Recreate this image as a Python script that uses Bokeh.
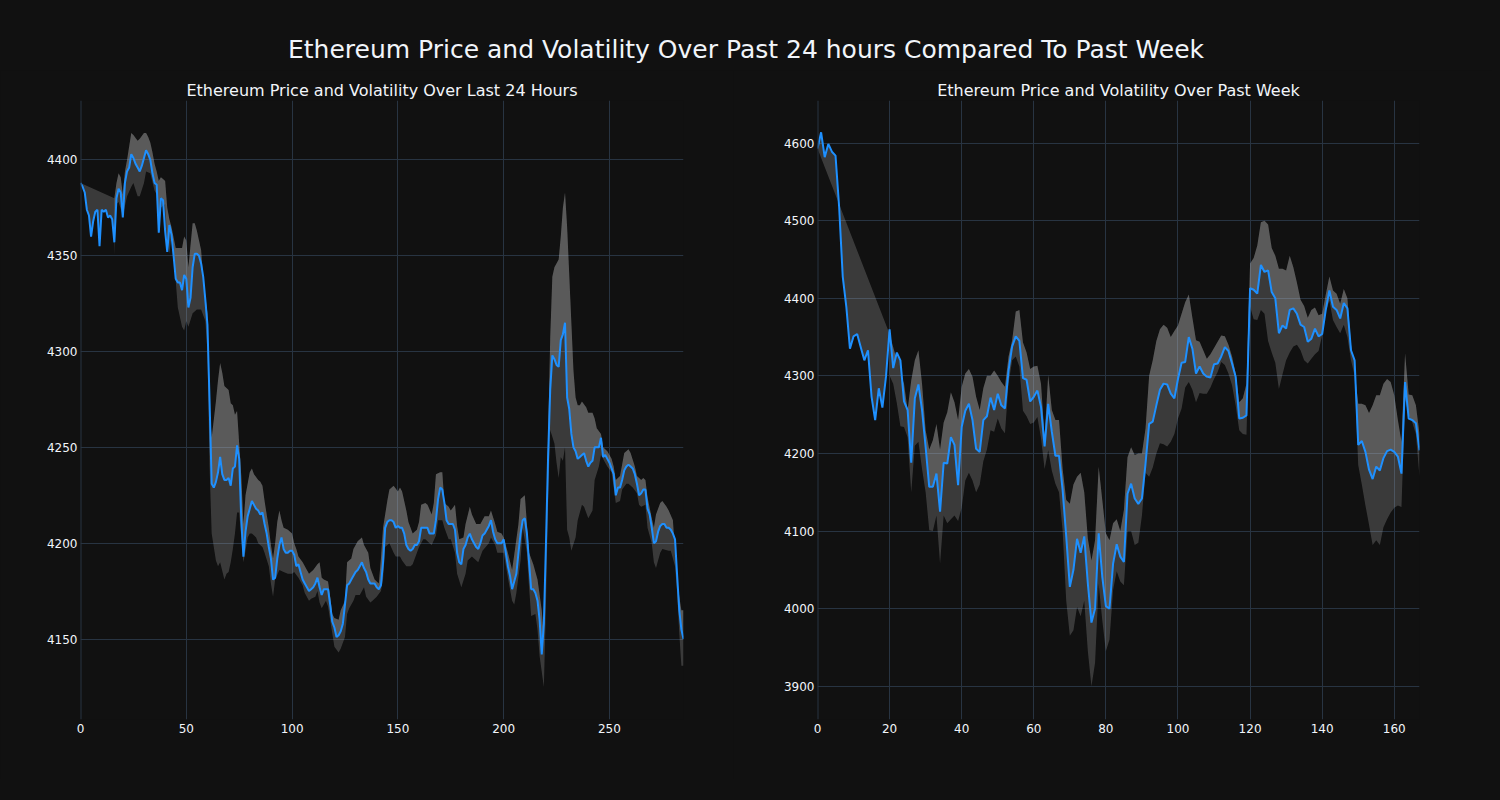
import numpy as np
from bokeh.plotting import figure
from bokeh.layouts import column, row
from bokeh.models import Div, Range1d, FixedTicker, Span, GlobalInlineStyleSheet
from bokeh.embed import file_html
from bokeh.resources import INLINE

BG = "#111111"
GRID = "#283442"
TXT = "#f2f5fa"
BLUE = "#1e90ff"
BAND = "#c0c0c0"
FONT = "DejaVu Sans"

main_title = "Ethereum Price and Volatility Over Past 24 hours Compared To Past Week"
day_title = "Ethereum Price and Volatility Over Last 24 Hours"
week_title = "Ethereum Price and Volatility Over Past Week"

# ---- last 24 hours (index 0..285) ----
day_price = [
    4388, 4386, 4383, 4374, 4371, 4360, 4368, 4373, 4374, 4355,
    4374, 4373, 4374, 4370, 4371, 4369, 4357, 4380, 4385, 4383,
    4370, 4388, 4394, 4396, 4403, 4401, 4398, 4396, 4394, 4397,
    4401, 4405, 4403, 4400, 4393, 4388, 4387, 4362, 4380, 4379,
    4363, 4352, 4366, 4361, 4350, 4338, 4336, 4336, 4332, 4340,
    4338, 4323, 4328, 4344, 4351, 4351, 4350, 4346, 4339, 4327,
    4314, 4274, 4231, 4229, 4232, 4237, 4245, 4236, 4233, 4233,
    4234, 4230, 4239, 4240, 4251, 4244, 4212, 4193, 4206, 4214,
    4218, 4222, 4220, 4218, 4217, 4215, 4216, 4210, 4205, 4198,
    4192, 4181, 4182, 4192, 4199, 4203, 4197, 4195, 4195, 4196,
    4196, 4194, 4188, 4189, 4185, 4181, 4179, 4177, 4175, 4176,
    4177, 4179, 4182, 4177, 4173, 4176, 4176, 4176, 4168, 4159,
    4156, 4151, 4152, 4154, 4158, 4168, 4178, 4179, 4181, 4183,
    4185, 4186, 4188, 4190, 4187, 4185, 4181, 4179, 4179, 4179,
    4177, 4176, 4178, 4190, 4208, 4211, 4212, 4212, 4211, 4208,
    4209, 4208, 4208, 4205, 4199, 4197, 4196, 4197, 4199, 4199,
    4201, 4208, 4208, 4208, 4208, 4205, 4205, 4205, 4212, 4223,
    4229, 4228, 4221, 4212, 4210, 4210, 4210, 4207, 4195, 4190,
    4189, 4197, 4199, 4203, 4205, 4202, 4200, 4198, 4197, 4200,
    4204, 4205, 4207, 4209, 4212, 4206, 4202, 4200, 4200, 4200,
    4202, 4195, 4188, 4183, 4176, 4180, 4184, 4195, 4205, 4212,
    4213, 4205, 4190, 4176, 4176, 4174, 4170, 4160, 4142, 4158,
    4200, 4245, 4280, 4298, 4296, 4293, 4292, 4306, 4309, 4315,
    4276, 4270, 4257, 4250, 4248, 4244, 4245, 4246, 4247, 4243,
    4240, 4242, 4243, 4250, 4250, 4250, 4255, 4245, 4246, 4244,
    4242, 4239, 4236, 4225, 4229, 4229, 4233, 4238, 4240, 4241,
    4240, 4239, 4236, 4231, 4225, 4226, 4228, 4228, 4218, 4215,
    4208, 4200, 4201, 4206, 4209, 4210, 4210, 4208, 4208, 4207,
    4205, 4202, 4183, 4165, 4155, 4150,
]

day_upper_x = [
    16, 17, 18, 19, 20, 21, 22, 23, 24, 25, 27, 28, 30, 31, 32, 33, 34, 35, 36, 37,
    38, 39, 40, 41, 42, 43, 45, 46, 48, 49, 50, 51, 53, 54, 55, 57, 58, 60, 61, 62,
    64, 65, 66, 67, 68, 70, 71, 72, 73, 74, 75, 76, 77, 78, 79, 80, 81, 82, 84, 85,
    86, 87, 88, 89, 90, 91, 92, 93, 94, 95, 96, 98, 100, 101, 102, 103, 105, 107, 108, 110,
    112, 113, 114, 115, 117, 118, 119, 120, 122, 123, 125, 126, 128, 129, 131, 133, 134, 136, 137, 139,
    141, 142, 143, 145, 146, 148, 150, 151, 152, 154, 155, 157, 159, 160, 161, 163, 164, 166, 167, 168,
    170, 171, 172, 174, 175, 177, 178, 179, 181, 182, 184, 185, 187, 189, 191, 193, 194, 196, 197, 199,
    200, 202, 204, 205, 207, 208, 210, 211, 212, 214, 216, 218, 219, 220, 221, 222, 223, 224, 226, 227,
    228, 229, 230, 231, 232, 233, 234, 235, 236, 237, 239, 240, 242, 243, 244, 246, 247, 249, 251, 252,
    253, 255, 256, 257, 259, 260, 262, 263, 265, 266, 267, 268, 270, 271, 272, 274, 275, 277, 278, 280,
    281, 282, 283, 284, 285,
]
day_upper = [
    4380, 4388, 4393, 4391, 4382, 4394, 4400, 4407, 4414, 4413, 4410, 4411, 4414, 4414, 4412, 4409, 4404, 4398, 4394, 4389,
    4391, 4390, 4389, 4375, 4369, 4365, 4354, 4354, 4354, 4360, 4358, 4344, 4367, 4367, 4363, 4353, 4338, 4320, 4270, 4255,
    4274, 4285, 4294, 4289, 4282, 4280, 4273, 4272, 4267, 4269, 4252, 4235, 4210, 4225, 4231, 4237, 4239, 4236, 4233, 4232,
    4230, 4222, 4215, 4208, 4199, 4192, 4200, 4211, 4217, 4212, 4208, 4207, 4205, 4200, 4197, 4193, 4190, 4186, 4184, 4186,
    4189, 4190, 4182, 4181, 4180, 4172, 4163, 4161, 4160, 4165, 4170, 4190, 4192, 4197, 4201, 4203, 4199, 4195, 4187, 4181,
    4179, 4192, 4208, 4222, 4228, 4230, 4227, 4229, 4227, 4217, 4211, 4205, 4207, 4211, 4220, 4221, 4220, 4215, 4221, 4236,
    4237, 4237, 4221, 4219, 4217, 4220, 4209, 4202, 4203, 4210, 4219, 4215, 4210, 4210, 4214, 4214, 4217, 4210, 4206, 4205,
    4203, 4195, 4186, 4194, 4210, 4223, 4225, 4210, 4195, 4189, 4181, 4165, 4151, 4203, 4255, 4307, 4339, 4344, 4348, 4360,
    4375, 4383, 4365, 4340, 4315, 4290, 4276, 4272, 4272, 4274, 4271, 4268, 4268, 4265, 4260, 4257, 4250, 4248, 4244, 4240,
    4233, 4235, 4241, 4247, 4249, 4247, 4240, 4235, 4233, 4234, 4233, 4224, 4213, 4208, 4215, 4221, 4222, 4219, 4217, 4212,
    4195, 4182, 4172, 4165, 4165,
]

day_lower_x = [
    16, 17, 18, 20, 22, 24, 25, 27, 28, 30, 31, 33, 35, 36, 37, 38, 40, 41, 42, 43,
    44, 45, 46, 48, 49, 50, 51, 53, 55, 57, 59, 60, 61, 62, 64, 65, 66, 68, 69, 70,
    71, 72, 73, 74, 75, 76, 77, 78, 79, 80, 81, 83, 84, 86, 87, 89, 90, 91, 92, 94,
    96, 98, 100, 101, 103, 105, 106, 108, 109, 111, 112, 113, 114, 116, 117, 119, 120, 122, 123, 125,
    126, 127, 129, 130, 132, 134, 135, 137, 138, 140, 142, 143, 144, 146, 148, 149, 151, 152, 154, 156,
    157, 159, 160, 162, 163, 165, 166, 168, 169, 171, 172, 174, 175, 177, 178, 180, 182, 183, 185, 186,
    188, 190, 193, 194, 196, 197, 200, 202, 204, 205, 206, 208, 209, 211, 212, 213, 215, 216, 217, 219,
    220, 221, 222, 224, 225, 226, 227, 228, 229, 230, 231, 232, 234, 235, 237, 238, 240, 242, 243, 245,
    246, 248, 249, 251, 252, 253, 255, 256, 258, 259, 261, 263, 264, 265, 267, 268, 270, 271, 272, 274,
    275, 278, 279, 281, 282, 283, 284, 285,
]
day_lower = [
    4350, 4377, 4378, 4371, 4381, 4386, 4388, 4381, 4381, 4388, 4394, 4393, 4384, 4382, 4361, 4375, 4377, 4360, 4351, 4360,
    4355, 4337, 4323, 4313, 4311, 4316, 4313, 4320, 4322, 4322, 4316, 4300, 4240, 4205, 4191, 4188, 4190, 4181, 4184, 4185,
    4190, 4197, 4205, 4216, 4216, 4202, 4190, 4196, 4203, 4205, 4205, 4203, 4200, 4198, 4195, 4188, 4179, 4172, 4181, 4186,
    4185, 4184, 4184, 4185, 4182, 4178, 4174, 4170, 4171, 4172, 4175, 4169, 4166, 4170, 4167, 4153, 4146, 4143, 4145, 4151,
    4163, 4166, 4170, 4173, 4173, 4177, 4172, 4169, 4170, 4172, 4175, 4181, 4198, 4200, 4195, 4193, 4193, 4191, 4188, 4188,
    4189, 4195, 4198, 4202, 4202, 4200, 4199, 4204, 4212, 4212, 4208, 4202, 4202, 4195, 4184, 4177, 4184, 4191, 4193, 4192,
    4190, 4196, 4200, 4203, 4199, 4195, 4195, 4182, 4170, 4168, 4174, 4191, 4208, 4195, 4177, 4162, 4163, 4155, 4141, 4125,
    4168, 4221, 4259, 4252, 4242, 4234, 4245, 4243, 4250, 4207, 4203, 4196, 4203, 4212, 4220, 4219, 4213, 4217, 4233, 4240,
    4246, 4242, 4240, 4237, 4229, 4221, 4222, 4228, 4231, 4231, 4229, 4226, 4220, 4219, 4220, 4208, 4200, 4190, 4187, 4195,
    4197, 4196, 4196, 4188, 4174, 4153, 4136, 4136,
]

# ---- past week (index 0..167) ----
week_price = [
    4593, 4614, 4582, 4599, 4589, 4584, 4518, 4428, 4389, 4335,
    4351, 4354, 4337, 4320, 4333, 4273, 4243, 4284, 4259, 4299,
    4360, 4310, 4330, 4320, 4267, 4256, 4188, 4271, 4289, 4256,
    4208, 4157, 4157, 4174, 4125, 4188, 4187, 4221, 4211, 4159,
    4234, 4255, 4264, 4243, 4206, 4202, 4243, 4248, 4272, 4256,
    4277, 4262, 4258, 4307, 4338, 4351, 4345, 4297, 4295, 4267,
    4273, 4281, 4260, 4209, 4264, 4228, 4197, 4197, 4153, 4093,
    4028, 4050, 4090, 4072, 4093, 4032, 3982, 4000, 4097, 4041,
    4003, 4000, 4058, 4083, 4067, 4060, 4148, 4161, 4142, 4135,
    4142, 4187, 4238, 4241, 4262, 4282, 4290, 4289, 4277, 4271,
    4296, 4317, 4318, 4350, 4335, 4303, 4312, 4303, 4299, 4298,
    4315, 4316, 4325, 4337, 4332, 4316, 4299, 4245, 4246, 4249,
    4413, 4411, 4406, 4443, 4434, 4436, 4408, 4400, 4355, 4365,
    4361, 4385, 4387, 4380, 4366, 4363, 4344, 4348, 4361, 4351,
    4354, 4385, 4410, 4389, 4385, 4374, 4394, 4387, 4333, 4320,
    4211, 4216, 4202, 4179, 4167, 4183, 4178, 4194, 4203, 4205,
    4202, 4196, 4174, 4292, 4245, 4243, 4239, 4204,
]

week_band_x = list(range(20, 168))
week_upper = [
    4354, 4337, 4320, 4303, 4290, 4256, 4294, 4320, 4333, 4290,
    4230, 4205, 4217, 4238, 4205, 4240, 4253, 4279, 4266, 4243,
    4286, 4303, 4309, 4299, 4273, 4256, 4284, 4300, 4300, 4307,
    4300, 4292, 4286, 4325, 4346, 4383, 4385, 4343, 4330, 4309,
    4312, 4313, 4290, 4221, 4301, 4256, 4243, 4243, 4180, 4140,
    4135, 4160, 4170, 4175, 4150, 4090, 4062, 4088, 4183, 4140,
    4097, 4088, 4110, 4115, 4100, 4127, 4195, 4208, 4198, 4200,
    4200, 4232, 4300, 4320, 4345, 4360, 4366, 4362, 4350, 4358,
    4365, 4380, 4395, 4405, 4375, 4346, 4344, 4333, 4322, 4328,
    4336, 4344, 4352, 4351, 4340, 4325, 4303, 4266, 4271, 4290,
    4445, 4452, 4468, 4498, 4500, 4495, 4465, 4455, 4438, 4438,
    4436, 4455, 4440, 4420, 4398, 4390, 4375, 4385, 4388, 4378,
    4380, 4405, 4428, 4410, 4406, 4393, 4412, 4400, 4340, 4307,
    4264, 4264, 4262, 4252, 4262, 4275, 4275, 4290, 4296, 4292,
    4275, 4243, 4215, 4329, 4276, 4275, 4262, 4225,
]
week_lower = [
    4300, 4290, 4265, 4235, 4234, 4221, 4150, 4210, 4215, 4180,
    4150, 4101, 4100, 4120, 4058, 4120, 4110, 4115, 4120, 4113,
    4130, 4165, 4175, 4165, 4150, 4160, 4190, 4205, 4230, 4228,
    4245, 4232, 4226, 4290, 4320, 4325, 4312, 4255, 4248, 4238,
    4240, 4247, 4220, 4180, 4204, 4178, 4161, 4150, 4100, 4010,
    3965, 3972, 4002, 3990, 4010, 3945, 3900, 3930, 4032, 3985,
    3945, 3960, 4024, 4048, 4035, 4030, 4100, 4100, 4082, 4085,
    4120, 4175, 4170, 4182, 4200, 4213, 4212, 4209, 4215, 4225,
    4245, 4258, 4285, 4292, 4282, 4266, 4278, 4277, 4277, 4285,
    4296, 4305, 4318, 4314, 4303, 4288, 4262, 4230, 4225, 4224,
    4389, 4373, 4372, 4385, 4380, 4345, 4330, 4317, 4283, 4302,
    4320, 4330, 4338, 4340, 4333, 4320, 4316, 4322, 4328, 4332,
    4352, 4383, 4397, 4372, 4363, 4355, 4366, 4350, 4320, 4300,
    4185, 4160, 4133, 4108, 4082, 4088, 4082, 4105, 4115, 4124,
    4130, 4133, 4131, 4270, 4250, 4240, 4225, 4170,
]

day_xticks = [0, 50, 100, 150, 200, 250]
day_yticks = [4150, 4200, 4250, 4300, 4350, 4400]
week_xticks = [0, 20, 40, 60, 80, 100, 120, 140, 160]
week_yticks = [3900, 4000, 4100, 4200, 4300, 4400, 4500, 4600]


def make_panel(title, price, ux, uy, lx, ly, xr, yr, xticks, yticks, bl, br, fw):
    price = np.asarray(price, dtype=float)
    x = np.arange(len(price))
    ux = np.asarray(ux, dtype=float)
    uy = np.asarray(uy, dtype=float)
    lx = np.asarray(lx, dtype=float)
    ly = np.asarray(ly, dtype=float)

    p = figure(frame_width=fw, frame_height=619, min_border_left=bl, min_border_right=br,
               min_border_top=30, min_border_bottom=60,
               x_range=Range1d(*xr), y_range=Range1d(*yr),
               output_backend="svg", toolbar_location=None, title=title)
    p.background_fill_color = BG
    p.border_fill_color = BG
    p.outline_line_color = None

    p.title.text_color = TXT
    p.title.text_font = FONT
    p.title.text_font_size = "16px"
    p.title.text_font_style = "normal"
    p.title.align = "center"
    p.title.standoff = 2

    for ax in (p.xaxis, p.yaxis):
        ax.axis_line_color = None
        ax.major_tick_line_color = None
        ax.minor_tick_line_color = None
        ax.major_tick_out = 0
        ax.major_tick_in = 0
        ax.minor_tick_out = 0
        ax.minor_tick_in = 0
        ax.major_label_text_color = TXT
        ax.major_label_text_font = FONT
        ax.major_label_text_font_size = "12px"
    p.xaxis.ticker = FixedTicker(ticks=xticks)
    p.yaxis.ticker = FixedTicker(ticks=yticks)
    p.xaxis.major_label_standoff = 4
    p.yaxis.major_label_standoff = 3
    p.xgrid.grid_line_color = GRID
    p.ygrid.grid_line_color = GRID
    p.xgrid.grid_line_width = 1
    p.ygrid.grid_line_width = 1

    p.add_layout(Span(location=0, dimension="height", line_color=GRID, line_width=2))

    # band between lower and upper
    p.patch(np.concatenate([ux, lx[::-1]]), np.concatenate([uy, ly[::-1]]),
            fill_color=BAND, fill_alpha=0.24, line_color=None)
    # band between upper and price (extends back to the first price)
    p.patch(np.concatenate([ux, x[::-1]]), np.concatenate([uy, price[::-1]]),
            fill_color=BAND, fill_alpha=0.24, line_color=None)
    p.line(x, price, line_color=BLUE, line_width=2)
    return p


p1 = make_panel(day_title, day_price, day_upper_x, day_upper, day_lower_x, day_lower,
                (0, 285), (4108, 4431), day_xticks, day_yticks, 80, 50, 603)
p2 = make_panel(week_title, week_price, week_band_x, week_upper, week_band_x, week_lower,
                (0, 167), (3857, 4655), week_xticks, week_yticks, 84, 73, 602)

head = Div(text=main_title, width=1492, height=70, margin=(0, 0, 0, 0),
           styles={"color": TXT, "font-family": FONT, "font-size": "25px",
                   "text-align": "center", "line-height": "30px", "padding-top": "35px",
                   "box-sizing": "border-box", "width": "1492px",
                   "background-color": BG})

p = column(head, row(p1, p2, spacing=0), spacing=0,
           stylesheets=[GlobalInlineStyleSheet(css="body { background-color: #111111; }")])

open("out.html", "w").write(file_html(p, INLINE))
